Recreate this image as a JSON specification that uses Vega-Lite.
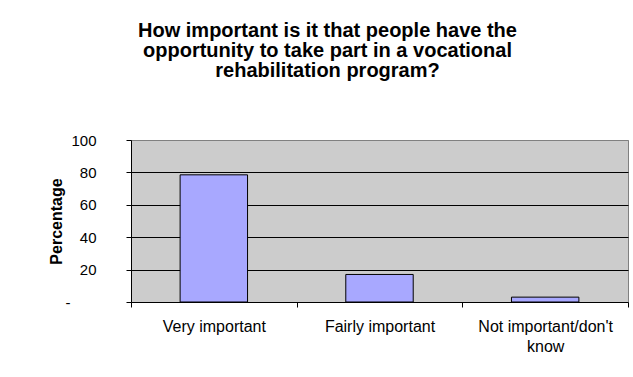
{
  "$schema": "https://vega.github.io/schema/vega-lite/v6.json",
  "width": 497,
  "height": 162,
  "autosize": {"type": "none"},
  "padding": {"left": 131, "top": 140, "right": 5, "bottom": 75},
  "background": "white",
  "title": {
    "text": ["How important is it that people have the", "opportunity to take part in a vocational", "rehabilitation program?"],
    "font": "Liberation Sans",
    "fontSize": 20,
    "fontWeight": "bold",
    "color": "black",
    "lineHeight": 20,
    "anchor": "middle",
    "dx": -52,
    "offset": 52
  },
  "data": {
    "values": [
      {"response": "Very important", "percentage": 78.5},
      {"response": "Fairly important", "percentage": 17},
      {"response": "Not important/don't know", "percentage": 3}
    ]
  },
  "mark": {"type": "bar", "fill": "#A8A8FF", "stroke": "black", "strokeWidth": 1, "width": {"band": 0.407}},
  "encoding": {
    "x": {
      "field": "response",
      "type": "nominal",
      "sort": null,
      "scale": {"paddingInner": 0, "paddingOuter": 0},
      "axis": {
        "title": null,
        "labelAngle": 0,
        "tickBand": "extent",
        "domainColor": "black",
        "tickColor": "black",
        "tickSize": 5,
        "labelPadding": 11,
        "labelFont": "Liberation Sans",
        "labelFontSize": 16,
        "labelColor": "black",
        "labelLineHeight": 20,
        "labelLimit": 0,
        "grid": false,
        "labelExpr": "indexof(datum.label, 'know') > 0 ? [substring(datum.label, 0, 19), 'know'] : datum.label"
      }
    },
    "y": {
      "field": "percentage",
      "type": "quantitative",
      "scale": {"domain": [0, 100], "nice": false},
      "axis": {
        "title": "Percentage",
        "titleFont": "Liberation Sans",
        "titleFontSize": 16,
        "titleFontWeight": "bold",
        "titleColor": "black",
        "titlePadding": 1,
        "values": [0, 20, 40, 60, 80, 100],
        "labelExpr": "datum.value == 0 ? '-' : datum.label",
        "labelFont": "Liberation Sans",
        "labelFontSize": 15,
        "labelColor": "black",
        "labelPadding": {"condition": {"test": "datum.value == 0", "value": 56}, "value": 30},
        "tickSize": 5,
        "tickColor": "black",
        "domainColor": "black",
        "grid": true,
        "gridOpacity": 1,
        "gridColor": {"condition": {"test": "datum.value == 100 || datum.value == 0", "value": "#808080"}, "value": "black"}
      }
    }
  },
  "config": {"view": {"fill": "#CCCCCC", "stroke": "#808080"}}
}
